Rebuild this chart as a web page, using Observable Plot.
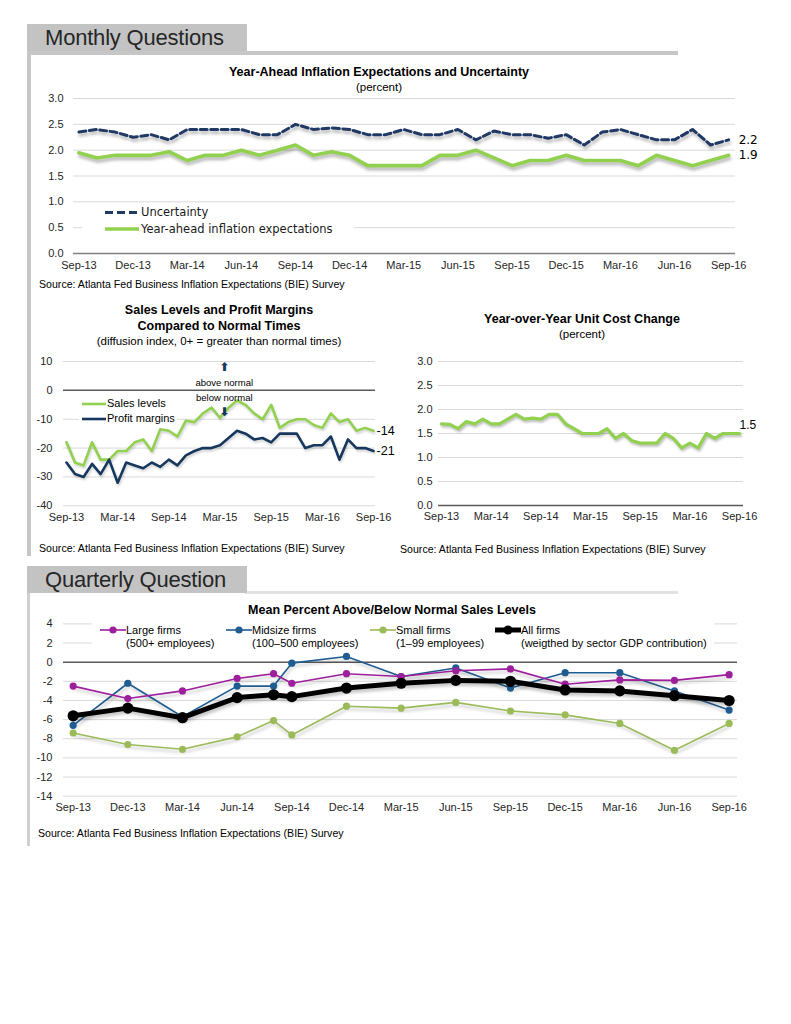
<!DOCTYPE html>
<html><head><meta charset="utf-8">
<script src="https://cdn.jsdelivr.net/npm/d3@7"></script>
<script src="https://cdn.jsdelivr.net/npm/@observablehq/plot@0.6"></script>
<style>
body{margin:0;background:#fff;font-family:"Liberation Sans",Arial,sans-serif;color:#000;}
#page{position:relative;width:791px;height:1024px;overflow:hidden;background:#fff;}
.box{position:absolute;}
.hdr{position:absolute;left:27px;width:220px;height:27px;background:#c3c3c3;font-size:22px;letter-spacing:-0.2px;color:#262626;line-height:27px;padding-left:18px;box-sizing:border-box;white-space:nowrap;}
.t{position:absolute;white-space:nowrap;transform:translate(-50%,-50%);text-align:center;}
.b{font-weight:bold;font-size:12.5px;}
.s{font-size:11.5px;}
.src{position:absolute;font-size:10.6px;white-space:nowrap;transform:translateY(-50%);}
.leg{position:absolute;background:#fff;}
.li{position:absolute;white-space:nowrap;font-size:11px;line-height:13px;}
svg.plot{position:absolute;overflow:visible;}
</style>
</head><body><div id="page"></div>
<script>
// ---------- tick labels ----------
const xLabelsQuarter = ["Sep-13","Dec-13","Mar-14","Jun-14","Sep-14","Dec-14","Mar-15","Jun-15","Sep-15","Dec-15","Mar-16","Jun-16","Sep-16"];
const xLabelsHalf = ["Sep-13","Mar-14","Sep-14","Mar-15","Sep-15","Mar-16","Sep-16"];
const yTicksPct = [0,0.5,1,1.5,2,2.5,3];
const yTicksSales = [10,0,-10,-20,-30,-40];
const yTicksQ = [4,2,0,-2,-4,-6,-8,-10,-12,-14];

// ---------- monthly series, Sep-13 .. Sep-16 ----------
const uncertainty = [2.35,2.4,2.35,2.25,2.3,2.2,2.4,2.4,2.4,2.4,2.3,2.3,2.5,2.4,2.43,2.4,2.3,2.3,2.4,2.3,2.3,2.4,2.2,2.37,2.3,2.3,2.23,2.3,2.1,2.35,2.4,2.3,2.2,2.2,2.4,2.1,2.2];
const inflationExp = [1.95,1.85,1.9,1.9,1.9,1.97,1.8,1.9,1.9,2.0,1.9,2.0,2.1,1.9,1.97,1.9,1.7,1.7,1.7,1.7,1.9,1.9,2.0,1.85,1.7,1.8,1.8,1.9,1.8,1.8,1.8,1.7,1.9,1.8,1.7,1.8,1.9];
const salesLevels = [-18,-25,-26,-18,-24,-24,-21,-21,-18,-17,-21,-13.5,-14,-16,-10.5,-11,-8,-6,-9.5,-6,-3.5,-5,-8,-10,-5,-13,-11,-10,-10,-12,-13,-8,-11,-10,-14,-13,-14];
const profitMargins = [-25,-29,-30,-25.5,-29,-24,-32,-25,-26,-27,-25,-26.5,-24,-26,-22.5,-21,-20,-20,-19,-16.5,-14,-15,-17,-16.5,-18,-15,-15,-15,-20,-19,-19,-16,-24,-17,-20,-20,-21];
const unitCost = [1.7,1.69,1.6,1.75,1.7,1.8,1.7,1.7,1.8,1.9,1.8,1.82,1.8,1.9,1.9,1.7,1.6,1.5,1.5,1.5,1.6,1.4,1.5,1.35,1.3,1.3,1.3,1.5,1.4,1.2,1.3,1.2,1.5,1.4,1.5,1.5,1.5];

// ---------- quarterly question ----------
const qPeriods = ["2013-09","2013-12","2014-03","2014-06","2014-08","2014-09","2014-12","2015-03","2015-06","2015-09","2015-12","2016-03","2016-06","2016-09"];
const largeFirms   = [-2.5,-3.8,-3.0,-1.7,-1.2,-2.2,-1.2,-1.5,-0.9,-0.7,-2.3,-1.85,-1.9,-1.3];
const midsizeFirms = [-6.6,-2.2,-5.7,-2.5,-2.5,-0.1,0.6,-1.5,-0.6,-2.7,-1.1,-1.1,-3.0,-5.0];
const smallFirms   = [-7.4,-8.6,-9.1,-7.8,-6.1,-7.6,-4.6,-4.8,-4.2,-5.1,-5.5,-6.4,-9.2,-6.4];
const allFirms     = [-5.6,-4.8,-5.8,-3.7,-3.4,-3.6,-2.7,-2.2,-1.9,-2.0,-2.9,-3.0,-3.5,-4.0];

// annotation anchors (data space of the sales chart)
const annotMonth = 18.5;
const annotAboveY = 2.6, annotBelowY = -2.8, arrowUpY = 8.1, arrowDownY = -7.7;

const C = {green:"#92d050", navy:"#1f3864", navy2:"#17375e", grid:"#d9d9d9", zero:"#7f7f7f",
  purple:"#9e1f9c", mid:"#1f5c91", small:"#9bbb59", black:"#000"};

const page = document.getElementById("page");
const idx = (d,i) => i;
const val = d => d;
const monthOf = s => { const [y,m] = s.split("-").map(Number); return (y-2013)*12 + (m-9); };
const baseStyle = {fontFamily:"'Liberation Sans', Arial, sans-serif", fontSize:"11px", color:"#262626", background:"transparent", overflow:"visible"};

function place(el, left, top){ el.style.left = left+"px"; el.style.top = top+"px"; el.classList.add("plot"); page.appendChild(el); return el; }
function shadow(svg, css){ svg.querySelectorAll('g[aria-label="line"] path').forEach(p => p.style.filter = css); }
function html(s){ page.insertAdjacentHTML("beforeend", s); }

// ---------- page frame ----------
html(`<div class="box" style="left:27px;top:51px;width:651px;height:4px;background:#c6c6c6"></div>
<div class="box" style="left:27px;top:51px;width:4px;height:505px;background:#c6c6c6"></div>
<div class="hdr" style="top:24px">Monthly Questions</div>
<div class="box" style="left:245px;top:591px;width:433px;height:3px;background:#e2e2e2"></div>
<div class="box" style="left:27px;top:591px;width:3px;height:255px;background:#cfcfcf"></div>
<div class="hdr" style="top:566px">Quarterly Question</div>`);

// ---------- Chart 1: Year-ahead inflation expectations ----------
const p1 = Plot.plot({
  width:791, height:187, marginLeft:73, marginRight:56, marginTop:8, marginBottom:24,
  style: baseStyle,
  x:{domain:[-0.30,36.38], axis:null},
  y:{domain:[0,3], axis:null},
  marks:[
    Plot.ruleY(yTicksPct.filter(d=>d!==0), {stroke:C.grid}),
    Plot.ruleY([0], {stroke:C.zero, strokeWidth:1.6}),
    Plot.axisY(yTicksPct, {tickSize:0, tickPadding:10, label:null, tickFormat:d=>d.toFixed(1)}),
    Plot.axisX(d3.range(0,37,3), {tickSize:0, tickPadding:8, label:null, tickFormat:d=>xLabelsQuarter[d/3]}),
    Plot.line(inflationExp, {x:idx, y:val, stroke:C.green, strokeWidth:3.6}),
    Plot.line(uncertainty, {x:idx, y:val, stroke:C.navy, strokeWidth:3, strokeDasharray:"7,3.5"}),
    Plot.text(uncertainty, {filter:(d,i)=>i===uncertainty.length-1, x:idx, y:val, text:d=>d.toFixed(1), dx:10, textAnchor:"start", fontFamily:"DejaVu Sans", fontSize:12, fill:"#000"}),
    Plot.text(inflationExp, {filter:(d,i)=>i===inflationExp.length-1, x:idx, y:val, text:d=>d.toFixed(1), dx:10, textAnchor:"start", fontFamily:"DejaVu Sans", fontSize:12, fill:"#000"})
  ]
});
shadow(p1, "drop-shadow(1px 3px 1.5px rgba(0,0,0,0.28))");
place(p1, 0, 90);

html(`<div class="t b" style="left:379px;top:71.5px">Year-Ahead Inflation Expectations and Uncertainty</div>
<div class="t s" style="left:379px;top:86.5px">(percent)</div>
<div class="leg" style="left:82px;top:203px;width:272px;height:35px"></div>
<svg class="box" style="left:104px;top:207px" width="36" height="30"><line x1="1" x2="35" y1="5.5" y2="5.5" stroke="${C.navy}" stroke-width="3" stroke-dasharray="8,4"/><line x1="1" x2="35" y1="22" y2="22" stroke="${C.green}" stroke-width="3.6"/></svg>
<div class="li" style="left:141px;top:205px;font-family:'DejaVu Sans';font-size:11.5px;line-height:15px;color:#1a1a1a">Uncertainty</div>
<div class="li" style="left:141px;top:222px;font-family:'DejaVu Sans';font-size:11.5px;line-height:15px;color:#1a1a1a">Year-ahead inflation expectations</div>
<div class="src" style="left:39px;top:283.5px">Source: Atlanta Fed Business Inflation Expectations (BIE) Survey</div>`);

// ---------- Chart 2: Sales levels and profit margins ----------
const p2 = Plot.plot({
  width:395, height:180, marginLeft:63, marginRight:20, marginTop:11, marginBottom:24.7,
  style: baseStyle,
  x:{domain:[-0.35,36.23], axis:null},
  y:{domain:[-40,10], axis:null},
  marks:[
    Plot.ruleY(yTicksSales.filter(d=>d!==0), {stroke:C.grid}),
    Plot.ruleY([0], {stroke:"#595959", strokeWidth:1.5}),
    Plot.axisY(yTicksSales, {tickSize:0, tickPadding:11, label:null, tickFormat:d=>String(d)}),
    Plot.axisX(d3.range(0,37,6), {tickSize:0, tickPadding:7, label:null, tickFormat:d=>xLabelsHalf[d/6]}),
    Plot.line(salesLevels, {x:idx, y:val, stroke:C.green, strokeWidth:2.6}),
    Plot.line(profitMargins, {x:idx, y:val, stroke:C.navy2, strokeWidth:2.6}),
    Plot.text(salesLevels, {filter:(d,i)=>i===salesLevels.length-1, x:idx, y:val, text:d=>String(d), dx:3, textAnchor:"start", fontSize:12.5, fill:"#000"}),
    Plot.text(profitMargins, {filter:(d,i)=>i===profitMargins.length-1, x:idx, y:val, text:d=>String(d), dx:3, textAnchor:"start", fontSize:12.5, fill:"#000"}),
    Plot.text(["above normal"], {x:annotMonth, y:annotAboveY, fontSize:9.5, fill:"#000"}),
    Plot.text(["below normal"], {x:annotMonth, y:annotBelowY, fontSize:9.5, fill:"#000"}),
    Plot.text(["⬆"], {x:annotMonth, y:arrowUpY, fontFamily:"DejaVu Sans", fontSize:12, fontWeight:"bold", fill:C.navy2}),
    Plot.text(["⬇"], {x:annotMonth, y:arrowDownY, fontFamily:"DejaVu Sans", fontSize:12, fontWeight:"bold", fill:C.navy2})
  ]
});
shadow(p2, "drop-shadow(1px 2px 1px rgba(0,0,0,0.18))");
place(p2, 0, 350);

html(`<div class="t b" style="left:219px;top:310px">Sales Levels and Profit Margins</div>
<div class="t b" style="left:219px;top:325.5px">Compared to Normal Times</div>
<div class="t s" style="left:219px;top:341px">(diffusion index, 0+ = greater than normal times)</div>
<div class="leg" style="left:79px;top:396px;width:98px;height:31px"></div>
<svg class="box" style="left:81px;top:398px" width="26" height="26"><line x1="1" x2="25" y1="6" y2="6" stroke="${C.green}" stroke-width="2.6"/><line x1="1" x2="25" y1="21" y2="21" stroke="${C.navy2}" stroke-width="2.6"/></svg>
<div class="li" style="left:107px;top:397px;font-size:11px">Sales levels</div>
<div class="li" style="left:107px;top:412px;font-size:11px">Profit margins</div>
<div class="src" style="left:39px;top:547.5px">Source: Atlanta Fed Business Inflation Expectations (BIE) Survey</div>`);

// ---------- Chart 3: Unit cost ----------
const p3 = Plot.plot({
  width:396, height:180, marginLeft:43, marginRight:48, marginTop:11, marginBottom:25,
  style: baseStyle,
  x:{domain:[-0.36,36.48], axis:null},
  y:{domain:[0,3], axis:null},
  marks:[
    Plot.ruleY(yTicksPct.filter(d=>d!==0), {stroke:C.grid}),
    Plot.ruleY([0], {stroke:"#595959", strokeWidth:1.5}),
    Plot.axisY(yTicksPct, {tickSize:0, tickPadding:6, label:null, tickFormat:d=>d.toFixed(1)}),
    Plot.axisX(d3.range(0,37,6), {tickSize:0, tickPadding:7, label:null, tickFormat:d=>xLabelsHalf[d/6]}),
    Plot.line(unitCost, {x:idx, y:val, stroke:C.green, strokeWidth:3.2}),
    Plot.text(unitCost, {filter:(d,i)=>i===unitCost.length-1, x:idx, y:val, text:d=>d.toFixed(1), dx:0, dy:-8, textAnchor:"start", fontSize:12, fill:"#000"})
  ]
});
shadow(p3, "drop-shadow(1px 2.5px 1.2px rgba(0,0,0,0.25))");
place(p3, 395, 350);

html(`<div class="t b" style="left:582px;top:318.5px">Year-over-Year Unit Cost Change</div>
<div class="t s" style="left:582px;top:334px">(percent)</div>
<div class="src" style="left:400px;top:548.5px">Source: Atlanta Fed Business Inflation Expectations (BIE) Survey</div>`);

// ---------- Chart 4: Quarterly ----------
const qSeries = [
  {name:"Small", values:smallFirms, color:C.small, w:1.6, r:3.6},
  {name:"Midsize", values:midsizeFirms, color:C.mid, w:1.6, r:3.6},
  {name:"Large", values:largeFirms, color:C.purple, w:1.6, r:3.6},
  {name:"All", values:allFirms, color:C.black, w:5, r:5.6}
];
const qMarks = [];
for (const s of qSeries) {
  const rows = qPeriods.map((p,i)=>({m:monthOf(p), v:s.values[i]}));
  qMarks.push(Plot.line(rows, {x:"m", y:"v", stroke:s.color, strokeWidth:s.w}));
  qMarks.push(Plot.dot(rows, {x:"m", y:"v", fill:s.color, r:s.r}));
}
const p4 = Plot.plot({
  width:791, height:208, marginLeft:63, marginRight:54, marginTop:11.4, marginBottom:24.3,
  style: baseStyle,
  x:{domain:[-0.53,36.46], axis:null, label:null},
  y:{domain:[-14,4], axis:null, label:null},
  marks:[
    Plot.ruleY(yTicksQ.filter(d=>d!==0), {stroke:C.grid}),
    Plot.ruleY([0], {stroke:"#595959", strokeWidth:1.5}),
    Plot.axisY(yTicksQ, {tickSize:0, tickPadding:11, label:null, tickFormat:d=>String(d)}),
    Plot.axisX(d3.range(0,37,3), {tickSize:0, tickPadding:7, label:null, tickFormat:d=>xLabelsQuarter[d/3]}),
    ...qMarks
  ]
});
shadow(p4, "drop-shadow(1px 3px 1.5px rgba(0,0,0,0.22))");
place(p4, 0, 612);

function sw(color, w, r){ return `<svg width="26" height="10" style="position:absolute;left:0;top:1px"><line x1="0" x2="26" y1="5" y2="5" stroke="${color}" stroke-width="${w}"/><circle cx="13" cy="5" r="${r}" fill="${color}"/></svg>`; }
html(`<div class="t b" style="left:392px;top:610px">Mean Percent Above/Below Normal Sales Levels</div>
<div class="leg" style="left:92px;top:620px;width:622px;height:31px"></div>
<div class="li" style="left:100px;top:624px;padding-left:26px">${sw(C.purple,1.6,3.6)}Large firms<br>(500+ employees)</div>
<div class="li" style="left:226px;top:624px;padding-left:26px">${sw(C.mid,1.6,3.6)}Midsize firms<br>(100–500 employees)</div>
<div class="li" style="left:370px;top:624px;padding-left:26px">${sw(C.small,1.6,3.6)}Small firms<br>(1–99 employees)</div>
<div class="li" style="left:495px;top:624px;padding-left:26px">${sw(C.black,5,4.5)}All firms<br>(weigthed by sector GDP contribution)</div>
<div class="src" style="left:38px;top:833px">Source: Atlanta Fed Business Inflation Expectations (BIE) Survey</div>`);
</script>
</body></html>
